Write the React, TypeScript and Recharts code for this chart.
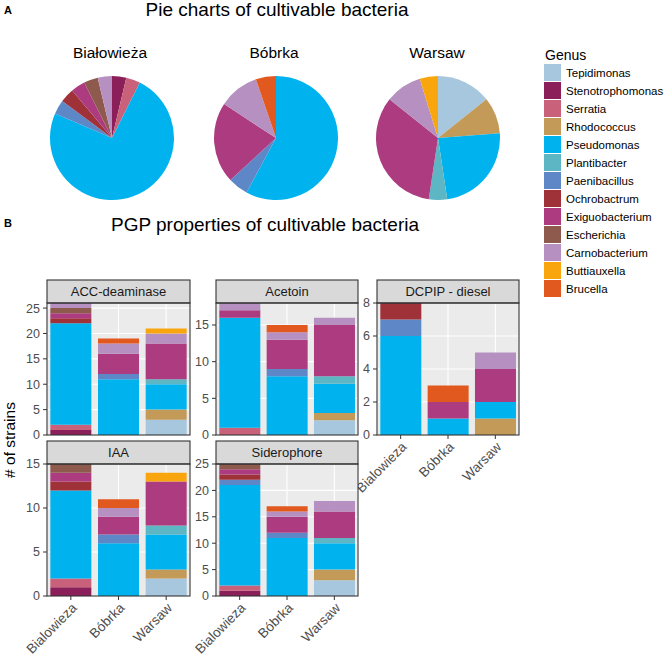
import React from 'react';
import { BarChart, Bar, XAxis, YAxis, CartesianGrid, PieChart, Pie, Cell } from 'recharts';

// ---- categories & colours ----
const genera = ['Tepidimonas', 'Stenotrophomonas', 'Serratia', 'Rhodococcus', 'Pseudomonas', 'Plantibacter', 'Paenibacillus', 'Ochrobactrum', 'Exiguobacterium', 'Escherichia', 'Carnobacterium', 'Buttiauxella', 'Brucella'];
const genusColors = ['#A6C7DE', '#8A1F59', '#CA617A', '#C39A57', '#00B3EE', '#5CB6C4', '#5E87C8', '#9F3139', '#AC3B7F', '#8D5A4D', '#B590C1', '#F9A60E', '#E1591F'];
const sites = ['Bialowieza', 'Bóbrka', 'Warsaw'];
const pieTitles = ['Białowieża', 'Bóbrka', 'Warsaw'];

// ---- pie counts (genus order above) ----
const pieBialowieza = [0, 1, 1, 0, 20, 0, 1, 1, 1, 1, 1, 0, 0];
const pieBobrka = [0, 0, 0, 0, 11, 0, 1, 0, 4, 0, 2, 0, 1];
const pieWarsaw = [3, 0, 0, 2, 5, 1, 0, 0, 7, 0, 2, 1, 0];

// ---- PGP properties: counts per genus ----
const accBialowieza = [0, 1, 1, 0, 20, 0, 0, 1, 1, 1, 1, 0, 0];
const accBobrka = [0, 0, 0, 0, 11, 0, 1, 0, 4, 0, 2, 0, 1];
const accWarsaw = [3, 0, 0, 2, 5, 1, 0, 0, 7, 0, 2, 1, 0];

const acetoinBialowieza = [0, 0, 1, 0, 15, 0, 0, 0, 1, 0, 1, 0, 0];
const acetoinBobrka = [0, 0, 0, 0, 8, 0, 1, 0, 4, 0, 1, 0, 1];
const acetoinWarsaw = [2, 0, 0, 1, 4, 1, 0, 0, 7, 0, 1, 0, 0];

const dcpipBialowieza = [0, 0, 0, 0, 6, 0, 1, 1, 0, 0, 0, 0, 0];
const dcpipBobrka = [0, 0, 0, 0, 1, 0, 0, 0, 1, 0, 0, 0, 1];
const dcpipWarsaw = [0, 0, 0, 1, 1, 0, 0, 0, 2, 0, 1, 0, 0];

const iaaBialowieza = [0, 1, 1, 0, 10, 0, 0, 1, 1, 1, 0, 0, 0];
const iaaBobrka = [0, 0, 0, 0, 6, 0, 1, 0, 2, 0, 1, 0, 1];
const iaaWarsaw = [2, 0, 0, 1, 4, 1, 0, 0, 5, 0, 0, 1, 0];

const sideroBialowieza = [0, 1, 1, 0, 19, 0, 1, 1, 1, 1, 0, 0, 0];
const sideroBobrka = [0, 0, 0, 0, 11, 0, 1, 0, 3, 0, 1, 0, 1];
const sideroWarsaw = [3, 0, 0, 2, 5, 1, 0, 0, 5, 0, 2, 0, 0];

// ---- tick labels ----
const accTicks = [0, 5, 10, 15, 20, 25];
const accMinor = [2.5, 7.5, 12.5, 17.5, 22.5];
const acetoinTicks = [0, 5, 10, 15];
const acetoinMinor = [2.5, 7.5, 12.5, 17.5];
const dcpipTicks = [0, 2, 4, 6, 8];
const dcpipMinor = [1, 3, 5, 7];
const iaaTicks = [0, 5, 10, 15];
const iaaMinor = [2.5, 7.5, 12.5];
const sideroTicks = [0, 5, 10, 15, 20, 25];
const sideroMinor = [2.5, 7.5, 12.5, 17.5, 22.5];

const FONT = '"Liberation Sans", Arial, Helvetica, sans-serif';

const buildRows = (cols: number[][]) =>
  sites.map((s, i) => {
    const r: any = { site: s };
    genera.forEach((g, j) => { r[g] = cols[i][j]; });
    return r;
  });

const panels = [
  { title: 'ACC-deaminase', cols: [accBialowieza, accBobrka, accWarsaw], ticks: accTicks, minor: accMinor, x: 47, y: 303, w: 143, h: 132, showX: false },
  { title: 'Acetoin', cols: [acetoinBialowieza, acetoinBobrka, acetoinWarsaw], ticks: acetoinTicks, minor: acetoinMinor, x: 216, y: 303, w: 142, h: 132, showX: false },
  { title: 'DCPIP - diesel', cols: [dcpipBialowieza, dcpipBobrka, dcpipWarsaw], ticks: dcpipTicks, minor: dcpipMinor, x: 377, y: 303, w: 142, h: 132, showX: true },
  { title: 'IAA', cols: [iaaBialowieza, iaaBobrka, iaaWarsaw], ticks: iaaTicks, minor: iaaMinor, x: 47, y: 464, w: 143, h: 132, showX: true },
  { title: 'Siderophore', cols: [sideroBialowieza, sideroBobrka, sideroWarsaw], ticks: sideroTicks, minor: sideroMinor, x: 216, y: 464, w: 142, h: 132, showX: true },
];

const pies = [
  { counts: pieBialowieza, cx: 112, cy: 138, tx: 110 },
  { counts: pieBobrka, cx: 276, cy: 138, tx: 274 },
  { counts: pieWarsaw, cx: 438, cy: 138, tx: 437 },
];

const RotTick = (props: any) => {
  const { x, y, payload } = props;
  return (
    <text x={x} y={y} dy="0.71em" textAnchor="end" transform={`rotate(-45 ${x} ${y})`} fontSize={13.5} fill="#4D4D4D" fontFamily={FONT}>
      {payload.value}
    </text>
  );
};

function Panel({ p }: { p: any }) {
  const yw = 44;
  const pad = 10;
  const xh = p.showX ? 80 : 0;
  const total = Math.max(...p.cols.map((c: number[]) => c.reduce((a, b) => a + b, 0)));
  return (
    <div style={{ position: 'absolute', left: p.x - yw, top: p.y - pad }}>
      <BarChart width={p.w + yw} height={p.h + xh + pad + (p.showX ? 0 : pad)} data={buildRows(p.cols)} margin={{ top: pad, right: 0, bottom: p.showX ? 0 : pad, left: 0 }} barCategoryGap="7%">
        <CartesianGrid fill="#EBEBEB" stroke="#FFFFFF" strokeWidth={1.1} />
        <CartesianGrid yAxisId="minor" vertical={false} stroke="#FFFFFF" strokeWidth={0.5} fill="none" />
        <XAxis dataKey="site" hide={!p.showX} height={xh} interval={0} tick={RotTick} tickLine={{ stroke: '#333333' }} tickSize={4} axisLine={false} />
        <YAxis type="number" domain={[0, total]} ticks={p.ticks} width={yw} interval={0} tick={{ fontSize: 12.5, fill: '#4D4D4D', fontFamily: FONT }} tickLine={{ stroke: '#333333' }} tickSize={4} tickMargin={3} axisLine={false} />
        <YAxis yAxisId="minor" type="number" hide domain={[0, total]} ticks={p.minor} interval={0} />
        {genera.map((g, i) => (
          <Bar key={g} dataKey={g} stackId="s" fill={genusColors[i]} isAnimationActive={false} />
        ))}
      </BarChart>
    </div>
  );
}

function PieBlock({ counts, cx, cy }: { counts: number[]; cx: number; cy: number }) {
  const data = genera
    .map((g, i) => ({ name: g, value: counts[i], color: genusColors[i] }))
    .filter((d) => d.value > 0);
  return (
    <div style={{ position: 'absolute', left: cx - 65, top: cy - 65 }}>
      <PieChart width={130} height={130} margin={{ top: 0, right: 0, bottom: 0, left: 0 }}>
        <Pie data={data} dataKey="value" nameKey="name" cx="50%" cy="50%" outerRadius={62} startAngle={90} endAngle={-270} stroke="none" isAnimationActive={false}>
          {data.map((d) => (
            <Cell key={d.name} fill={d.color} />
          ))}
        </Pie>
      </PieChart>
    </div>
  );
}

export default function App() {
  return (
    <div style={{ position: 'absolute', left: 0, top: 0, width: 666, height: 656, background: '#FFFFFF', fontFamily: FONT, overflow: 'hidden' }}>
      {pies.map((p, i) => (
        <PieBlock key={i} counts={p.counts} cx={p.cx} cy={p.cy} />
      ))}
      {panels.map((p) => (
        <Panel key={p.title} p={p} />
      ))}
      <svg width={666} height={656} style={{ position: 'absolute', left: 0, top: 0, pointerEvents: 'none' }} fontFamily={FONT}>
        <text x={4} y={14} fontSize={11} fontWeight="bold" fill="#000">A</text>
        <text x={277} y={16} fontSize={19} textAnchor="middle" fill="#000">Pie charts of cultivable bacteria</text>
        {pies.map((p, i) => (
          <text key={i} x={p.tx} y={57.5} fontSize={15.5} textAnchor="middle" fill="#000">{pieTitles[i]}</text>
        ))}
        <text x={4} y={227} fontSize={11} fontWeight="bold" fill="#000">B</text>
        <text x={265} y={231} fontSize={19} textAnchor="middle" fill="#000">PGP properties of cultivable bacteria</text>
        <text transform="rotate(-90)" x={-440} y={15} fontSize={15.5} textAnchor="middle" fill="#000"># of strains</text>
        {panels.map((p) => (
          <g key={p.title}>
            <rect x={p.x} y={p.y - 23} width={p.w} height={23} fill="#D9D9D9" stroke="#333333" strokeWidth={1.1} />
            <text x={p.x + p.w / 2} y={p.y - 7} fontSize={13} textAnchor="middle" fill="#1A1A1A">{p.title}</text>
            <rect x={p.x} y={p.y} width={p.w} height={p.h} fill="none" stroke="#333333" strokeWidth={1.1} />
          </g>
        ))}
        <text x={545} y={60} fontSize={14} fill="#000">Genus</text>
        {genera.map((g, i) => (
          <g key={g}>
            <rect x={544} y={64 + 18 * i} width={17} height={17} fill={genusColors[i]} />
            <text x={566} y={64 + 18 * i + 12.7} fontSize={11.5} fill="#000">{g}</text>
          </g>
        ))}
      </svg>
    </div>
  );
}
